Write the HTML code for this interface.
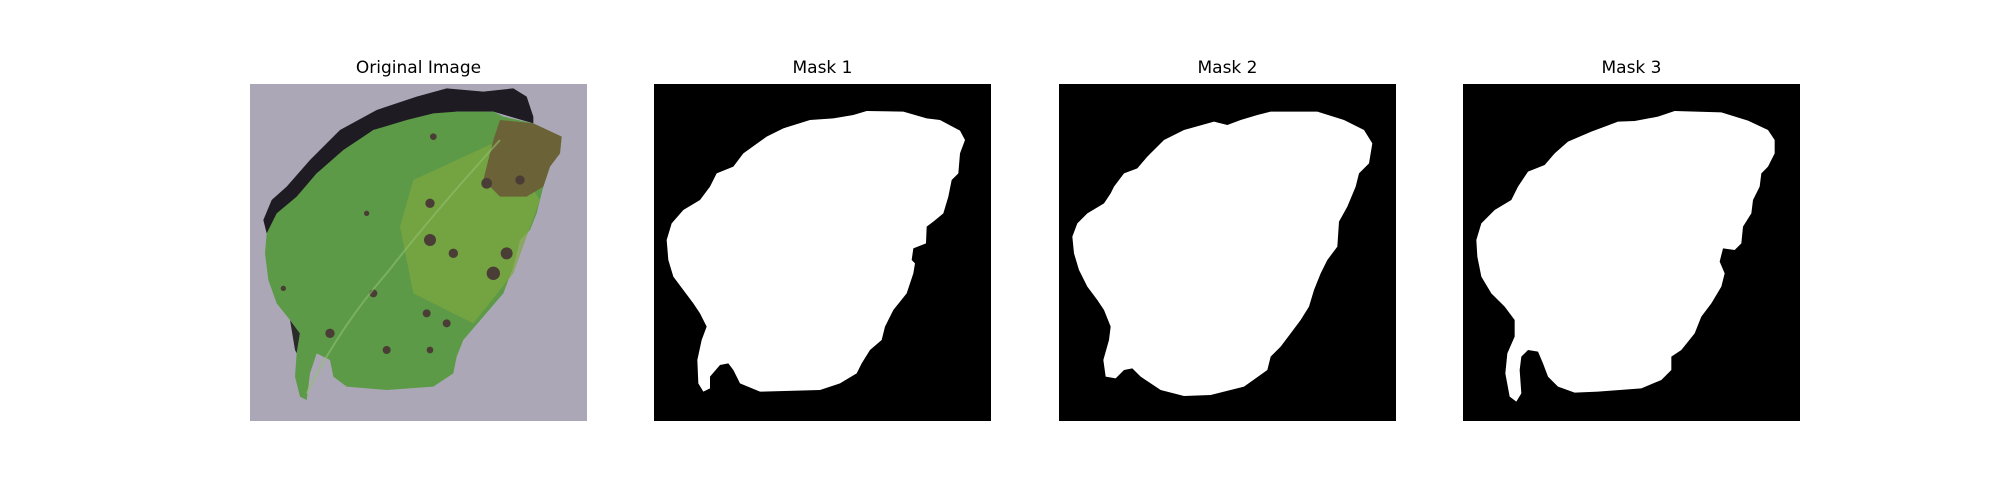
<!DOCTYPE html>
<html><head><meta charset="utf-8"><style>
body{margin:0;background:#fff;width:2000px;height:500px;overflow:hidden;position:relative;font-family:"DejaVu Sans","Liberation Sans",sans-serif}
.t{position:absolute;top:58px;width:337px;text-align:center;font-size:17px;color:#000}
svg{position:absolute;top:84px;width:337px;height:337px}
</style></head><body>
<div class="t" style="left:250px">Original Image</div>
<div class="t" style="left:654px">Mask 1</div>
<div class="t" style="left:1059px">Mask 2</div>
<div class="t" style="left:1463px">Mask 3</div>

<svg style="left:250px" viewBox="150 132 1011 1011" preserveAspectRatio="none">
<rect x="150" y="132" width="1011" height="1011" fill="#aca7b7"/>
<polygon fill="#1e1b22" points="190,540 215,480 260,440 330,360 420,270 530,210 650,170 740,145 850,155 940,145 980,170 1000,230 1000,250 880,215 770,215 520,270 350,400 200,580"/>
<polygon fill="#2a2a28" points="300,880 270,840 285,930 290,940"/>
<polygon fill="#5c9a48" points="770,215 880,215 910,230 1000,250 1085,290 1080,340 1050,380 1030,440 1010,520 990,570 960,600 940,680 910,760 850,830 790,900 770,950 760,1000 700,1040 560,1050 440,1040 400,1010 390,960 350,940 330,1000 320,1080 300,1070 285,1010 290,940 300,880 270,840 230,790 205,720 195,640 200,580 230,520 290,470 350,400 430,330 520,270 620,240 700,220"/>
<polygon fill="#7fa640" opacity="0.7" points="640,420 900,300 1020,480 940,700 820,850 640,760 600,560"/>
<polygon fill="#6b6238" points="900,240 1000,250 1085,290 1080,340 1050,380 1030,440 980,470 900,470 850,420 880,300"/>
<g fill="#4a3d36">
<circle cx="690" cy="600" r="18"/><circle cx="760" cy="640" r="14"/><circle cx="880" cy="700" r="20"/><circle cx="920" cy="640" r="18"/>
<circle cx="690" cy="490" r="14"/><circle cx="520" cy="760" r="12"/><circle cx="680" cy="820" r="12"/><circle cx="560" cy="930" r="12"/>
<circle cx="390" cy="880" r="14"/><circle cx="740" cy="850" r="12"/><circle cx="250" cy="745" r="8"/><circle cx="500" cy="520" r="8"/>
<circle cx="690" cy="930" r="10"/><circle cx="860" cy="430" r="16"/><circle cx="960" cy="420" r="14"/><circle cx="700" cy="290" r="10"/>
</g>
<path d="M320,1060 Q420,860 560,700 Q700,520 900,300" stroke="#8fbf6e" stroke-width="6" fill="none" opacity="0.6"/>
</svg>

<svg style="left:654px" viewBox="42 132 1011 1011" preserveAspectRatio="none">
<rect x="42" y="132" width="1011" height="1011" fill="#000"/>
<polygon fill="#fff" points="680,213 790,215 860,235 900,240 960,272 975,300 960,340 955,400 935,420 925,470 910,520 880,545 860,560 858,610 820,625 815,660 825,670 820,700 800,760 760,810 735,860 725,900 690,930 665,970 650,1000 600,1030 540,1050 360,1055 300,1030 280,990 265,970 240,975 210,1010 210,1045 190,1055 175,1030 172,960 185,900 200,860 180,820 160,790 130,750 100,710 85,660 80,600 95,550 130,510 180,480 210,440 230,400 280,380 310,340 380,290 430,265 510,240 580,235 640,225"/>
</svg>

<svg style="left:1059px" viewBox="45 132 1011 1011" preserveAspectRatio="none">
<rect x="45" y="132" width="1011" height="1011" fill="#000"/>
<polygon fill="#fff" points="680,215 820,215 900,240 960,270 985,310 975,370 945,400 935,440 910,500 885,545 880,620 850,660 830,700 810,750 795,800 770,840 740,880 710,920 680,950 670,990 600,1040 500,1065 420,1068 350,1050 290,1010 265,985 240,990 215,1015 185,1010 178,960 195,900 200,860 180,810 160,780 130,740 105,690 90,640 85,590 100,550 130,520 180,490 200,460 210,440 240,400 280,385 310,350 360,300 420,270 510,245 550,255 590,240 640,225"/>
</svg>

<svg style="left:1463px" viewBox="45 132 1011 1011" preserveAspectRatio="none">
<rect x="45" y="132" width="1011" height="1011" fill="#000"/>
<polygon fill="#fff" points="680,213 820,217 900,242 960,270 980,300 980,340 960,380 940,400 935,440 915,480 910,520 885,560 880,610 860,630 825,625 815,665 830,700 820,740 790,790 760,830 740,880 700,930 670,950 670,990 640,1020 580,1045 450,1055 380,1058 330,1040 300,1010 285,970 270,935 240,930 220,950 215,990 220,1060 205,1085 185,1070 172,1000 178,940 200,890 200,840 170,800 130,760 100,710 88,650 85,600 100,550 140,510 190,480 210,440 240,395 290,375 320,340 360,305 430,275 510,245 560,243 630,230"/>
</svg>
</body></html>
